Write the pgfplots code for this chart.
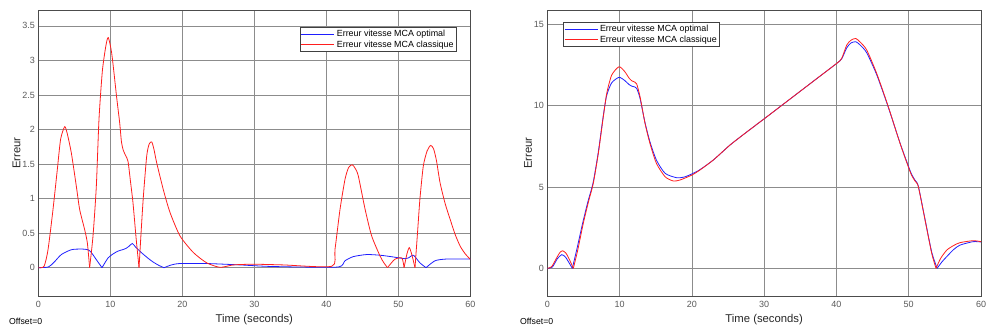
\documentclass[border=0pt]{standalone}
\usepackage{fontspec}
\setmainfont{Liberation Sans}
\usepackage{pgfplots}
\pgfplotsset{compat=1.18}
\definecolor{mblue}{RGB}{30,30,255}
\definecolor{mred}{RGB}{255,30,30}
\begin{document}
\begin{tikzpicture}
\useasboundingbox (0pt,0pt) rectangle (987pt,329pt);
\pgfplotsset{
 scopestyle/.style={
  scale only axis, height=286pt,
  xmin=0,xmax=60, xtick={0,10,...,60},
  grid=major, major grid style={black!45, line width=0.5pt},
  axis line style={black!70, line width=0.6pt},
  tick style={draw=none},
  tick label style={font=\fontsize{9}{10}\selectfont, text=black!65},
  xticklabel style={yshift=-2pt},
  /pgf/number format/assume math mode=true,
  label style={font=\fontsize{11.3}{12}\selectfont, text=black!85},
  ylabel style={yshift=-5pt},
  xlabel={Time (seconds)}, ylabel={Erreur},
  legend style={font=\fontsize{8.9}{10}\selectfont, draw=black!75, line width=0.6pt, inner sep=1pt, row sep=-1.5pt, cells={anchor=west}},
  every axis plot/.append style={line width=0.8pt, smooth, tension=0.4},
 }
}
\begin{axis}[scopestyle, at={(38.3pt,33pt)}, anchor=south west, width=432pt,
  ymin=-0.41, ymax=3.73, ytick={0,0.5,...,3.5},
  legend style={at={(0.969,0.9406)}, anchor=north east}]
\addlegendimage{mblue, line width=0.8pt, sharp plot, legend image code/.code={\draw[mblue, line width=0.8pt] (0pt,0pt) -- (33pt,0pt);}}
\addlegendentry{Erreur vitesse MCA optimal}
\addlegendimage{mred, line width=0.8pt, sharp plot, legend image code/.code={\draw[mred, line width=0.8pt] (0pt,0pt) -- (33pt,0pt);}}
\addlegendentry{Erreur vitesse MCA classique}
% optimal (blue)
\addplot[mblue, forget plot] coordinates {(0,0) (1.4,0.01) (2.2,0.08) (3.2,0.19) (4.6,0.26) (6.0,0.27) (6.9,0.26) (7.36,0.22) (8.1,0.11) (8.85,0)};
\addplot[mblue, forget plot] coordinates {(8.85,0) (9.68,0.14) (10.4,0.2) (11.07,0.24) (11.7,0.26) (12.2,0.28) (12.6,0.31) (13.06,0.35) (13.5,0.3) (14.3,0.22) (15.2,0.14) (15.97,0.08) (16.8,0.03) (17.46,0)};
\addplot[mblue, forget plot] coordinates {(17.46,0) (18.5,0.04) (19.68,0.06) (23.4,0.06) (28,0.04) (31.6,0.02) (36,0.01) (41.7,0.01) (42.6,0.10) (43.75,0.16) (45.6,0.19) (47.5,0.18) (49.3,0.155) (50.9,0.13) (51.4,0.14) (52.1,0.18) (53.0,0.07) (53.85,0)};
\addplot[mblue, forget plot] coordinates {(53.85,0) (55.1,0.1) (56.7,0.125) (60,0.125)};
% classique (red)
\addplot[mred, forget plot] coordinates {(0,0) (0.8,0.02) (1.35,0.26) (2.04,0.84) (2.64,1.42) (3.1,1.86) (3.66,2.04) (4.0,1.95) (4.59,1.66) (5.28,1.18) (5.75,0.84) (6.44,0.55) (6.81,0.36) (7.13,0)};
\addplot[mred, forget plot] coordinates {(7.13,0) (7.6,0.46) (8.06,1.18) (8.43,2.15) (8.9,2.85) (9.4,3.22) (9.72,3.33) (10.2,3.1) (10.9,2.45) (11.3,2.1) (11.55,1.82) (11.8,1.70) (12.1,1.63) (12.46,1.54) (12.8,1.25) (13.15,0.94) (13.6,0.41) (13.99,0)};
\addplot[mred, forget plot] coordinates {(13.99,0) (14.3,0.55) (14.6,1.04) (15.06,1.62) (15.4,1.79) (15.75,1.82) (16.05,1.72) (16.44,1.52) (17.36,1.13) (18.29,0.80) (19.68,0.46) (21.53,0.22) (23.39,0.07) (25.24,0.005) (27.1,0.04) (29.9,0.05) (34,0.04) (40.75,0.02) (41.2,0.26) (41.9,0.84) (42.6,1.28) (43.1,1.45) (43.6,1.49) (44.0,1.44) (44.44,1.33) (45.4,0.84) (46.3,0.46) (47.46,0.17) (48.0,0.07) (48.5,0)};
\addplot[mred, forget plot] coordinates {(48.5,0) (49.5,0.12) (50.5,0.14) (50.8,0)};
\addplot[mred, forget plot] coordinates {(50.8,0) (51.2,0.2) (51.53,0.29) (51.9,0.18) (52.32,0)};
\addplot[mred, forget plot] coordinates {(52.32,0) (52.7,0.55) (53.0,0.99) (53.47,1.47) (54.0,1.69) (54.5,1.77) (54.9,1.72) (55.3,1.55) (55.8,1.23) (56.5,0.93) (57.2,0.70) (57.9,0.48) (58.6,0.31) (59.3,0.2) (60,0.12)};
\end{axis}
\node[anchor=west, inner sep=0pt, font=\fontsize{8.7}{9}\selectfont] at (9pt,8pt) {Offset=0};
\begin{axis}[scopestyle, at={(547.3pt,33pt)}, anchor=south west, width=433.7pt,
  ymin=-1.7, ymax=15.88, ytick={0,5,10,15},
  legend style={at={(0.036,0.958)}, anchor=north west}]
\addlegendimage{mblue, line width=0.8pt, sharp plot, legend image code/.code={\draw[mblue, line width=0.8pt] (0pt,0pt) -- (33pt,0pt);}}
\addlegendentry{Erreur vitesse MCA optimal}
\addlegendimage{mred, line width=0.8pt, sharp plot, legend image code/.code={\draw[mred, line width=0.8pt] (0pt,0pt) -- (33pt,0pt);}}
\addlegendentry{Erreur vitesse MCA classique}
\addplot[mblue, forget plot] coordinates {(0,0) (0.7,0.08) (1.4,0.6) (2.0,0.84) (2.5,0.7) (3.0,0.35) (3.46,0)};
\addplot[mblue, forget plot] coordinates {(3.46,0) (4.1,1.2) (4.9,2.8) (5.65,4.15) (6.33,5.25) (7.03,7.07) (7.72,9.3) (8.2,10.6) (8.9,11.4) (9.92,11.74) (10.7,11.55) (11.3,11.3) (11.68,11.2) (12.1,11.15) (12.37,11.06) (12.83,10.45) (13.52,8.95) (14.2,7.78) (15.1,6.65) (16.3,5.84) (17.9,5.57) (19.0,5.62) (19.98,5.8) (21.1,6.06) (22.97,6.66) (25.28,7.58) (27.59,8.38) (30.12,9.23) (32.65,10.09) (36.8,11.5) (40.04,12.6) (40.73,12.88) (41.42,13.55) (42.0,13.85) (42.67,13.93) (43.3,13.72) (44.19,13.25) (45.57,11.9) (47.18,9.9) (48.8,7.7) (50.28,5.9) (50.9,5.4) (51.33,5.05) (52.26,3.0) (53.18,1.0) (53.93,0)};
\addplot[mblue, forget plot] coordinates {(53.93,0) (54.6,0.4) (55.26,0.72) (56.2,1.15) (57.1,1.43) (58.9,1.64) (60,1.62)};
\addplot[mred, forget plot] coordinates {(0,0) (0.6,0.1) (1.3,0.65) (1.75,0.98) (2.13,1.08) (2.6,0.92) (3.1,0.5) (3.6,0)};
\addplot[mred, forget plot] coordinates {(3.6,0) (4.2,1.1) (4.98,2.77) (5.7,4.1) (6.36,5.22) (7.06,7.07) (7.75,9.32) (8.22,10.75) (8.91,11.88) (9.92,12.39) (10.7,12.1) (11.3,11.7) (11.68,11.53) (12.1,11.45) (12.37,11.33) (12.83,10.55) (13.52,8.91) (14.2,7.68) (15.1,6.45) (16.3,5.63) (17.43,5.37) (18.36,5.43) (19.98,5.73) (21.1,6.04) (22.97,6.66) (25.28,7.58) (27.59,8.38) (30.12,9.23) (32.65,10.09) (36.8,11.5) (40.04,12.6) (40.73,12.91) (41.42,13.72) (42.0,14.02) (42.67,14.13) (43.3,13.9) (44.19,13.42) (45.57,11.98) (47.18,9.93) (48.8,7.68) (50.28,5.84) (50.9,5.35) (51.33,5.02) (52.26,2.97) (53.18,0.92) (53.78,0)};
\addplot[mred, forget plot] coordinates {(53.78,0) (54.4,0.6) (55.26,1.12) (56.2,1.4) (57.1,1.58) (58.9,1.70) (60,1.64)};
\end{axis}
\node[anchor=west, inner sep=0pt, font=\fontsize{8.7}{9}\selectfont] at (520pt,8pt) {Offset=0};
\end{tikzpicture}
\end{document}
